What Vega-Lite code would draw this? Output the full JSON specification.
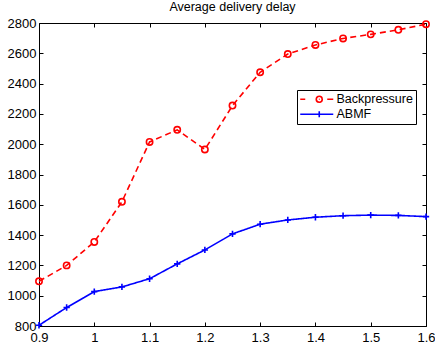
{
  "$schema": "https://vega.github.io/schema/vega-lite/v6.json",
  "width": 387,
  "height": 303,
  "autosize": {"type": "none"},
  "padding": {"left": 39, "top": 23, "right": 9, "bottom": 21},
  "background": "white",
  "config": {
    "font": "Liberation Sans",
    "view": {"stroke": "black", "strokeWidth": 1},
    "axis": {"grid": false, "domain": false, "tickColor": "black", "labelColor": "black", "labelFontSize": 13, "labelFont": "Liberation Sans", "tickSize": -4, "title": null}
  },
  "title": {"text": "Average delivery delay", "fontSize": 12.5, "fontWeight": "normal", "font": "Liberation Sans", "color": "black", "offset": 4},
  "data": {"values": [
    {"x": 0.9, "y": 1095, "s": "Backpressure"},
    {"x": 0.95, "y": 1200, "s": "Backpressure"},
    {"x": 1.0, "y": 1355, "s": "Backpressure"},
    {"x": 1.05, "y": 1620, "s": "Backpressure"},
    {"x": 1.1, "y": 2015, "s": "Backpressure"},
    {"x": 1.15, "y": 2095, "s": "Backpressure"},
    {"x": 1.2, "y": 1965, "s": "Backpressure"},
    {"x": 1.25, "y": 2255, "s": "Backpressure"},
    {"x": 1.3, "y": 2475, "s": "Backpressure"},
    {"x": 1.35, "y": 2595, "s": "Backpressure"},
    {"x": 1.4, "y": 2655, "s": "Backpressure"},
    {"x": 1.45, "y": 2698, "s": "Backpressure"},
    {"x": 1.5, "y": 2725, "s": "Backpressure"},
    {"x": 1.55, "y": 2755, "s": "Backpressure"},
    {"x": 1.6, "y": 2792, "s": "Backpressure"},
    {"x": 0.9, "y": 805, "s": "ABMF"},
    {"x": 0.95, "y": 922, "s": "ABMF"},
    {"x": 1.0, "y": 1027, "s": "ABMF"},
    {"x": 1.05, "y": 1058, "s": "ABMF"},
    {"x": 1.1, "y": 1112, "s": "ABMF"},
    {"x": 1.15, "y": 1210, "s": "ABMF"},
    {"x": 1.2, "y": 1302, "s": "ABMF"},
    {"x": 1.25, "y": 1408, "s": "ABMF"},
    {"x": 1.3, "y": 1472, "s": "ABMF"},
    {"x": 1.35, "y": 1500, "s": "ABMF"},
    {"x": 1.4, "y": 1518, "s": "ABMF"},
    {"x": 1.45, "y": 1528, "s": "ABMF"},
    {"x": 1.5, "y": 1532, "s": "ABMF"},
    {"x": 1.55, "y": 1530, "s": "ABMF"},
    {"x": 1.6, "y": 1522, "s": "ABMF"}
  ]},
  "layer": [
    {
      "mark": {"type": "line", "strokeWidth": 1.6},
      "encoding": {
        "x": {"field": "x", "type": "quantitative", "scale": {"domain": [0.9, 1.6], "nice": false, "zero": false},
              "axis": {"orient": "bottom", "values": [0.9, 1.0, 1.1, 1.2, 1.3, 1.4, 1.5, 1.6], "format": "~g", "labelPadding": 9, "labelFlush": false}},
        "y": {"field": "y", "type": "quantitative", "scale": {"domain": [800, 2800], "nice": false, "zero": false},
              "axis": {"orient": "left", "values": [800, 1000, 1200, 1400, 1600, 1800, 2000, 2200, 2400, 2600, 2800], "format": "d", "labelPadding": 7, "labelFlush": false}},
        "color": {"field": "s", "type": "nominal", "scale": {"domain": ["Backpressure", "ABMF"], "range": ["#FF0000", "#0000FF"]},
                  "legend": {"orient": "none", "legendX": 258, "legendY": 67, "title": null, "strokeColor": "black", "fillColor": "white", "padding": 3,
                             "labelFontSize": 12.5, "labelFont": "Liberation Sans", "labelColor": "black", "symbolSize": 100, "symbolStrokeWidth": 1.6,
                             "symbolOffset": 0, "labelOffset": 24, "rowPadding": 2,
                             "encode": {
                               "symbols": {"update": {"shape": {"signal": "datum.value == 'Backpressure' ? 'M-1.2,0H-0.2M3.2,0A0.6,0.6 0 1 1 2,0A0.6,0.6 0 1 1 3.2,0A0.6,0.6 0 1 1 2,0A0.6,0.6 0 1 1 3.2,0A0.6,0.6 0 1 1 2,0A0.6,0.6 0 1 1 3.2,0A0.6,0.6 0 1 1 2,0A0.6,0.6 0 1 1 3.2,0A0.6,0.6 0 1 1 2,0A0.6,0.6 0 1 1 3.2,0M2.525,0H2.675M4.2,0H5.4' : 'M-1.2,0H5.4M2.6,-0.6V0.6'"}, "fill": {"value": "transparent"}}}}}},
        "strokeDash": {"field": "s", "type": "nominal", "scale": {"domain": ["Backpressure", "ABMF"], "range": [[6, 4], [1, 0]]}, "legend": null}
      }
    },
    {
      "transform": [{"filter": "datum.s == 'Backpressure'"}],
      "mark": {"type": "point", "shape": "circle", "filled": false, "strokeWidth": 1.6, "opacity": 1, "color": "#FF0000", "size": 40},
      "encoding": {
        "x": {"field": "x", "type": "quantitative", "axis": {"orient": "top", "values": [0.9, 1.0, 1.1, 1.2, 1.3, 1.4, 1.5, 1.6], "labels": false}},
        "y": {"field": "y", "type": "quantitative", "axis": {"orient": "right", "values": [800, 1000, 1200, 1400, 1600, 1800, 2000, 2200, 2400, 2600, 2800], "labels": false}}
      }
    },
    {
      "transform": [{"filter": "datum.s == 'ABMF'"}],
      "mark": {"type": "point", "shape": "M-1,0H1M0,-1V1", "filled": false, "strokeWidth": 1.6, "opacity": 1, "color": "#0000FF", "size": 40},
      "encoding": {
        "x": {"field": "x", "type": "quantitative", "axis": null},
        "y": {"field": "y", "type": "quantitative", "axis": null}
      }
    }
  ],
  "resolve": {"axis": {"x": "independent", "y": "independent"}}
}
